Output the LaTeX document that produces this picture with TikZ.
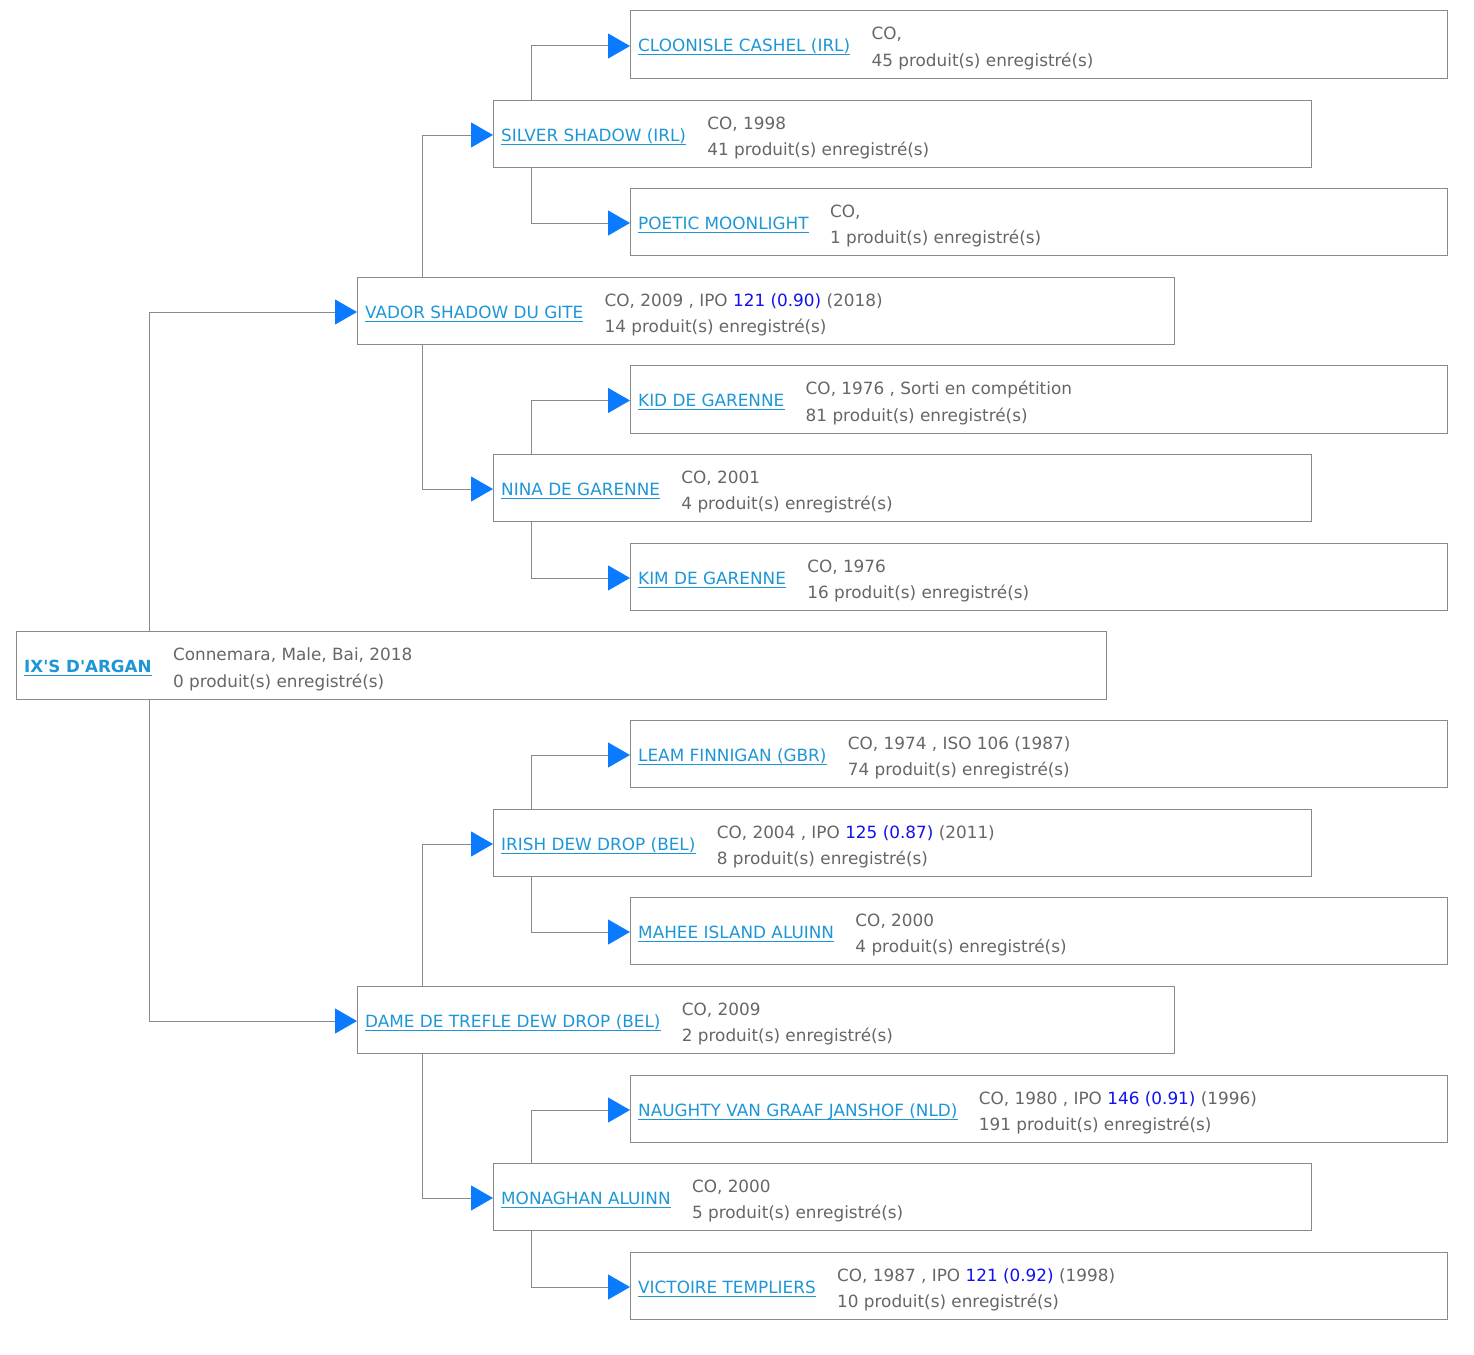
\documentclass[tikz,border=0pt]{standalone}
\usepackage{fontspec}
\setmainfont{DejaVu Sans}
\usepackage{tikz}
\usetikzlibrary{arrows.meta}
\usetikzlibrary{calc}
\usetikzlibrary{positioning}
\definecolor{linkblue}{HTML}{1E96D6}
\definecolor{infogray}{HTML}{666666}
\definecolor{ipoblue}{HTML}{1010F0}
\definecolor{framegray}{HTML}{8A8A8A}
\definecolor{tipblue}{HTML}{0A7AFF}
\tikzset{box/.style = {draw = framegray, line width = 1pt, anchor = north west, inner sep = 0, outer sep = 0},
         nm/.style = {inner sep = 0, text = linkblue, font = \fontsize{16.85}{20}\selectfont},
         info/.style = {inner sep = 0, text = infogray, font = \fontsize{16.85}{20}\selectfont},
         uline/.style = {draw = linkblue, line width = 1pt},
         tree/.style = {draw = framegray, line width = 1pt, -{Triangle[length = 22pt, width = 25pt, color = tipblue]}}}
\newcommand{\ipo}[1]{\textcolor{ipoblue}{#1}}
% one horse: name, x, y, width, height, label, line 1, line 2
\newcommand{\horse}[8]{%
    \node [box, minimum width = #4pt, minimum height = #5pt] (#1) at (#2,#3) {};
    \node [nm, anchor = base west] (#1n) at ($(#1.west)+(8,7.5)$) {#6};
    \draw [uline] ($(#1n.base west)+(0,3)$) -- ($(#1n.base east)+(0,3)$);
    \node [info, anchor = base west] (#1a) at ($(#1n.base east)+(21,-12)$) {#7};
    \node [info, anchor = base west] (#1b) at ($(#1a.base west)+(0,26.5)$) {#8};}

\begin{document}
\begin{tikzpicture}[x = 1pt, y = -1pt]
            \useasboundingbox (0,0) rectangle (1474,1354);
            \horse{root}{16}{631}{1090}{68}{\fontsize{16.7}{20}\selectfont\textbf{IX\textquotesingle S D\textquotesingle ARGAN}}{Connemara, Male, Bai, 2018}{0 produit(s) enregistré(s)}
            \horse{vador}{357}{277}{817}{67}{VADOR SHADOW DU GITE}{CO, 2009 , IPO \ipo{121 (0.90)} (2018)}{14 produit(s) enregistré(s)}
            \horse{dame}{357}{986}{817}{67}{DAME DE TREFLE DEW DROP (BEL)}{CO, 2009}{2 produit(s) enregistré(s)}
            \horse{silver}{493}{100}{818}{67}{SILVER SHADOW (IRL)}{CO, 1998}{41 produit(s) enregistré(s)}
            \horse{nina}{493}{454}{818}{67}{NINA DE GARENNE}{CO, 2001}{4 produit(s) enregistré(s)}
            \horse{irish}{493}{809}{818}{67}{IRISH DEW DROP (BEL)}{CO, 2004 , IPO \ipo{125 (0.87)} (2011)}{8 produit(s) enregistré(s)}
            \horse{monaghan}{493}{1163}{818}{67}{MONAGHAN ALUINN}{CO, 2000}{5 produit(s) enregistré(s)}
            \horse{cloonisle}{630}{11}{817}{67}{CLOONISLE CASHEL (IRL)}{CO,}{45 produit(s) enregistré(s)}
            \horse{poetic}{630}{188}{817}{67}{POETIC MOONLIGHT}{CO,}{1 produit(s) enregistré(s)}
            \horse{kid}{630}{365}{817}{68}{KID DE GARENNE}{CO, 1976 , Sorti en compétition}{81 produit(s) enregistré(s)}
            \horse{kim}{630}{543}{817}{67}{KIM DE GARENNE}{CO, 1976}{16 produit(s) enregistré(s)}
            \horse{leam}{630}{720}{817}{67}{LEAM FINNIGAN (GBR)}{CO, 1974 , ISO 106 (1987)}{74 produit(s) enregistré(s)}
            \horse{mahee}{630}{897}{817}{67}{MAHEE ISLAND ALUINN}{CO, 2000}{4 produit(s) enregistré(s)}
            \horse{naughty}{630}{1075}{817}{67}{NAUGHTY VAN GRAAF JANSHOF (NLD)}{CO, 1980 , IPO \ipo{146 (0.91)} (1996)}{191 produit(s) enregistré(s)}
            \horse{victoire}{630}{1252}{817}{67}{VICTOIRE TEMPLIERS}{CO, 1987 , IPO \ipo{121 (0.92)} (1998)}{10 produit(s) enregistré(s)}
            \draw [tree] ([xshift = 133pt]root.north west) |- ([yshift = -1.5pt]vador.west);
            \draw [tree] ([xshift = 133pt]root.south west) |- ([yshift = -1.5pt]dame.west);
            \foreach \p/\a/\b in {vador/silver/nina, dame/irish/monaghan} {
                \draw [tree] ([xshift = 65pt]\p.north west) |- ([yshift = -1.5pt]\a.west);
                \draw [tree] ([xshift = 65pt]\p.south west) |- ([yshift = -1.5pt]\b.west);
            }
            \foreach \p/\a/\b in {silver/cloonisle/poetic, nina/kid/kim, irish/leam/mahee, monaghan/naughty/victoire} {
                \draw [tree] ([xshift = 38pt]\p.north west) |- ([yshift = -1.5pt]\a.west);
                \draw [tree] ([xshift = 38pt]\p.south west) |- ([yshift = -1.5pt]\b.west);
            }
        \end{tikzpicture}
\end{document}
